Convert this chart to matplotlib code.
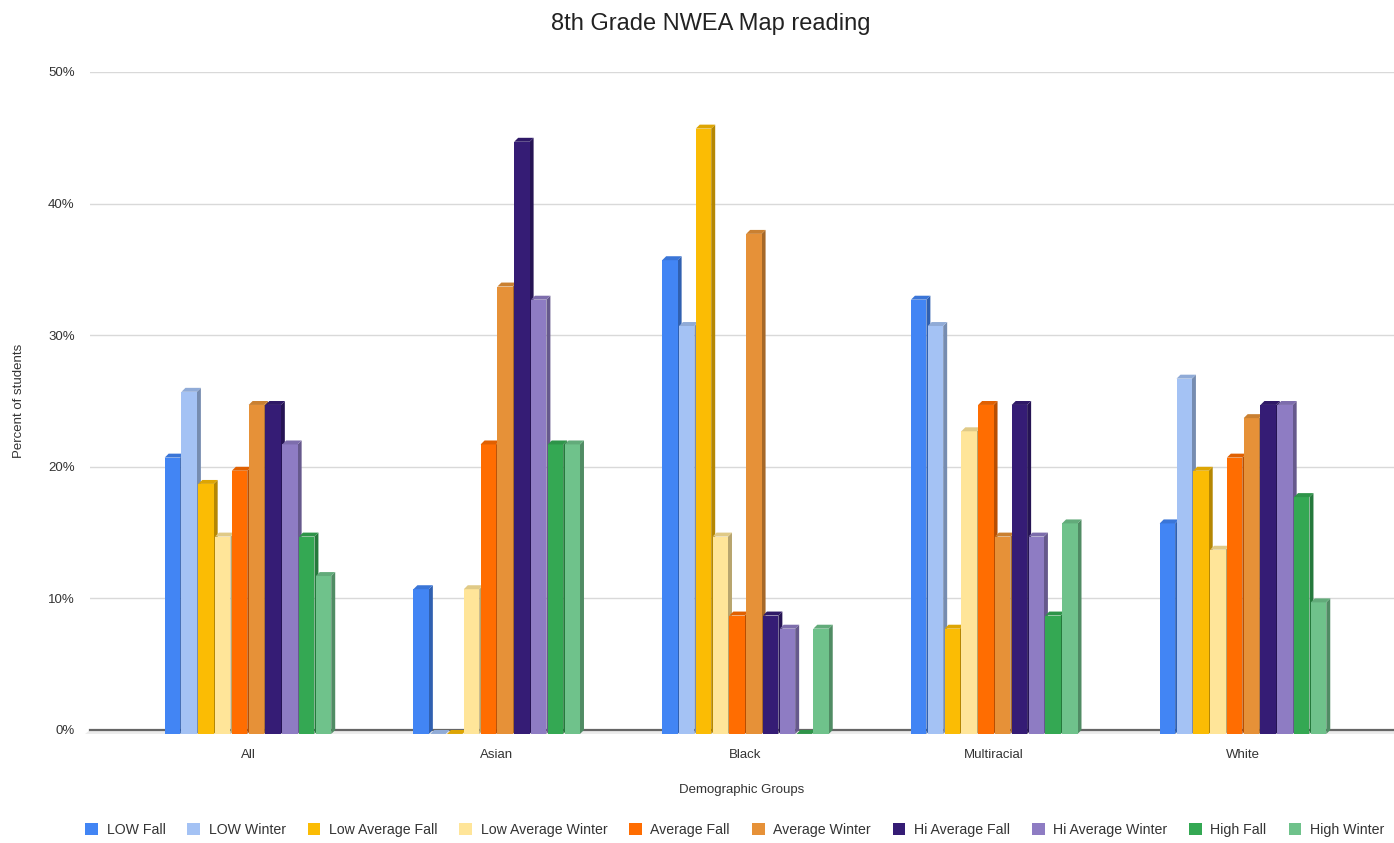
import matplotlib
matplotlib.use("Agg")
import matplotlib.pyplot as plt
from matplotlib.patches import Polygon, Patch
import matplotlib.colors as mcolors
import numpy as np

plt.rcParams['font.family'] = ['Liberation Sans', 'DejaVu Sans']

categories = ["All", "Asian", "Black", "Multiracial", "White"]
series_names = ["LOW Fall", "LOW Winter", "Low Average Fall", "Low Average Winter",
                "Average Fall", "Average Winter", "Hi Average Fall", "Hi Average Winter",
                "High Fall", "High Winter"]
low_fall = [21, 11, 36, 33, 16]
low_winter = [26, 0, 31, 31, 27]
low_avg_fall = [19, 0, 46, 8, 20]
low_avg_winter = [15, 11, 15, 23, 14]
avg_fall = [20, 22, 9, 25, 21]
avg_winter = [25, 34, 38, 15, 24]
hi_avg_fall = [25, 45, 9, 25, 25]
hi_avg_winter = [22, 33, 8, 15, 25]
high_fall = [15, 22, 0, 9, 18]
high_winter = [12, 22, 8, 16, 10]
series_values = [low_fall, low_winter, low_avg_fall, low_avg_winter, avg_fall,
                 avg_winter, hi_avg_fall, hi_avg_winter, high_fall, high_winter]
colors = ["#4285f4", "#a4c2f4", "#fbbc04", "#ffe599", "#ff6d01",
          "#e69138", "#351c75", "#8e7cc3", "#34a853", "#6fc28b"]
yticks = [0, 10, 20, 30, 40, 50]

fig = plt.figure(figsize=(13.94, 8.43), dpi=100)
ax = fig.add_axes([90/1394, 113/843, 1304/1394, 658/843])

slot = 0.0675
front_w = 0.062
dx = 0.016
dy = 0.30
x = np.arange(len(categories))


def shade(c, f):
    r, g, b = mcolors.to_rgb(c)
    return (r*f, g*f, b*f)


for j, (vals, col) in enumerate(zip(series_values, colors)):
    offs = (j - 4.5) * slot
    z = 3 + j * 0.1
    bars = ax.bar(x + offs, vals, width=front_w, bottom=-dy, color=col,
                  zorder=z + 0.05, clip_on=False, linewidth=0)
    for r in bars:
        x0 = r.get_x()
        w = r.get_width()
        h = r.get_height()
        top = -dy + h
        side = Polygon([(x0 + w, -dy), (x0 + w + dx, 0), (x0 + w + dx, top + dy), (x0 + w, top)],
                       closed=True, facecolor=shade(col, 0.72), edgecolor='none',
                       zorder=z, clip_on=False)
        ax.add_patch(side)
        topf = Polygon([(x0, top), (x0 + dx, top + dy), (x0 + w + dx, top + dy), (x0 + w, top)],
                       closed=True, facecolor=shade(col, 0.88), edgecolor='none',
                       zorder=z + 0.06, clip_on=False)
        ax.add_patch(topf)

xl = (-0.635, 4.607)
ax.set_xlim(*xl)
ax.set_ylim(0, 50)

# floor
floor = Polygon([(xl[0] - 0.02, -dy), (xl[0], 0), (xl[1], 0), (xl[1], -dy)], closed=True,
                facecolor="#ebebeb", edgecolor='none', zorder=1, clip_on=False)
ax.add_patch(floor)
ax.axhline(0, color="#666666", lw=1.6, zorder=2, clip_on=False)

ax.set_yticks(yticks)
ax.set_yticklabels([f"{t}%" for t in yticks])
ax.yaxis.grid(True, color="#d9d9d9", lw=1, zorder=0)
ax.set_axisbelow(True)
ax.set_xticks(x)
ax.set_xticklabels(categories)
ax.tick_params(axis='both', length=0, labelsize=9.5, labelcolor="#333333")
ax.tick_params(axis='y', pad=11)
ax.tick_params(axis='x', pad=14)
for s in ax.spines.values():
    s.set_visible(False)

ax.set_xlabel("Demographic Groups", fontsize=9.5, color="#333333", labelpad=16)
ax.set_ylabel("Percent of students", fontsize=9.5, color="#333333")
ax.yaxis.set_label_coords(-65/1304, 0.5)
fig.text(711/1394, 0.972, "8th Grade NWEA Map reading", ha='center', va='center',
         fontsize=17, color="#222222")

handles = [Patch(facecolor=c, edgecolor='none') for c in colors]
fig.legend(handles, series_names, loc='lower center', bbox_to_anchor=(0.527, -0.008),
           ncol=10, frameon=False, fontsize=10.2, handlelength=0.9, handleheight=0.9,
           handletextpad=0.6, columnspacing=1.55, labelcolor="#333333")

fig.savefig("out.png", dpi=100)
